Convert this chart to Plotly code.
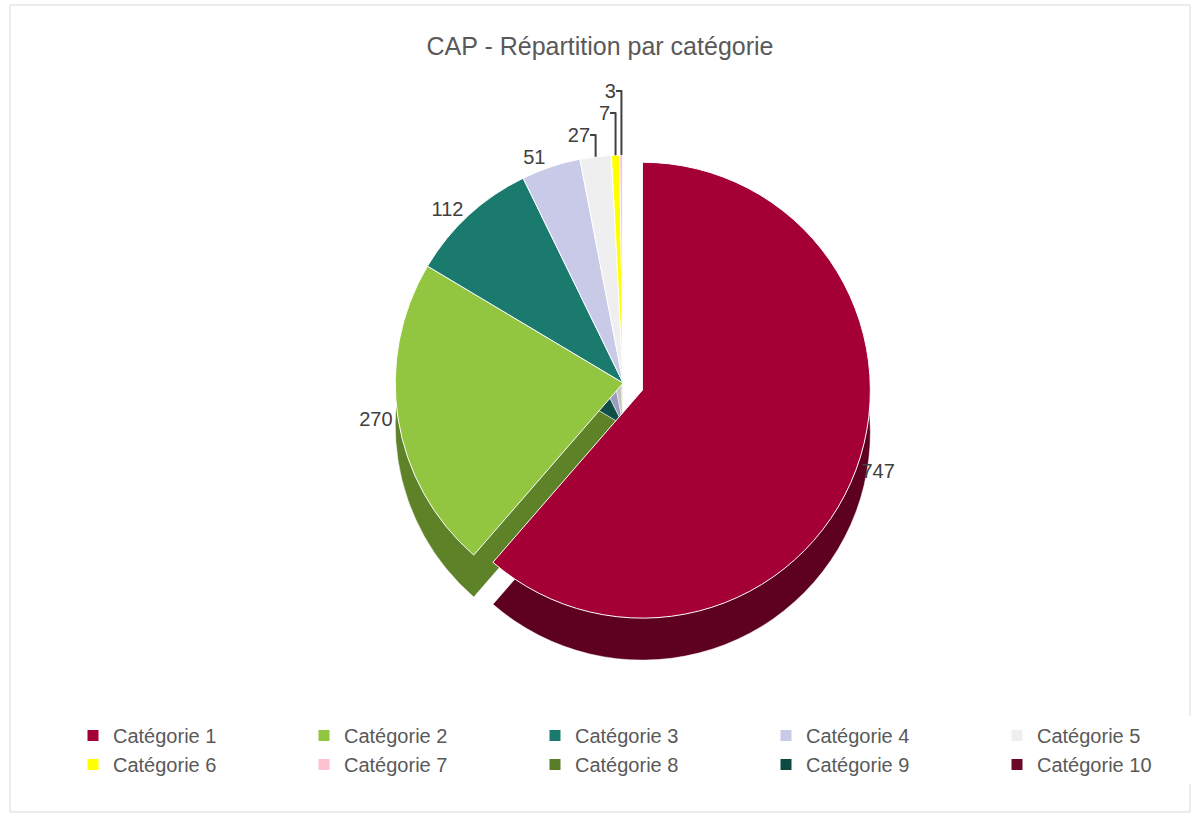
import plotly.graph_objects as go

categories = ["Catégorie 1", "Catégorie 2", "Catégorie 3", "Catégorie 4", "Catégorie 5",
              "Catégorie 6", "Catégorie 7", "Catégorie 8", "Catégorie 9", "Catégorie 10"]
values = [747, 270, 112, 51, 27, 7, 3, 0, 0, 0]
top_colors = ["#A50036", "#92C540", "#1B7A6E", "#C9C9E8", "#EFEFEF",
              "#FFFF00", "#FFC0D0", "#5A7D2A", "#0E4A40", "#6B0A28"]
side_colors = ["#5E0020", "#5E8228", "#0F4F47", "#9C9CC0", "#C4C4C4",
               "#C8C800", "#D49AAA", "#3E571C", "#08302A", "#45061A"]
pulls = [0.09, 0, 0, 0, 0, 0, 0, 0, 0, 0]
title_text = "CAP - Répartition par catégorie"

labels_text = [str(v) if v > 0 else "" for v in values]

W, H = 1200, 816
ML, MR, MT, MB = 20, 20, 80, 130
pw, ph = W - ML - MR, H - MT - MB

dom_x = [0.10, 0.94]
dom_y = [0.09, 0.91]
depth = 42 / ph

fig = go.Figure()
# side (depth) of the pie
fig.add_trace(go.Pie(
    labels=categories, values=values, sort=False, direction="clockwise", rotation=0,
    marker=dict(colors=side_colors, line=dict(color="#FFFFFF", width=0.5)),
    pull=pulls, textinfo="none", hoverinfo="skip", showlegend=False,
    domain=dict(x=dom_x, y=[dom_y[0] - depth, dom_y[1] - depth]),
))
# top of the pie
fig.add_trace(go.Pie(
    labels=categories, values=values, sort=False, direction="clockwise", rotation=0,
    marker=dict(colors=top_colors, line=dict(color="#FFFFFF", width=1)),
    pull=pulls, text=labels_text, textinfo="text", textposition="outside",
    outsidetextfont=dict(size=20, color="#404040"),
    domain=dict(x=dom_x, y=dom_y),
))

fig.update_layout(
    width=W, height=H,
    margin=dict(l=ML, r=MR, t=MT, b=MB, autoexpand=False),
    paper_bgcolor="#FFFFFF", plot_bgcolor="#FFFFFF",
    font=dict(family="Liberation Sans, Arial, sans-serif", color="#595959"),
    title=dict(text=title_text, x=0.5, xanchor="center", y=1 - 46 / H, yanchor="middle",
               font=dict(size=25, color="#595959")),
    legend=dict(orientation="h", x=(73 - ML) / pw, xanchor="left",
                y=(H - 716 - MB) / ph, yanchor="top",
                entrywidth=186, entrywidthmode="pixels",
                font=dict(size=20, color="#595959"), traceorder="normal"),
    shapes=[dict(type="rect", xref="paper", yref="paper",
                 x0=(10 - ML) / pw, x1=(1190 - ML) / pw,
                 y0=(4 - MB) / ph, y1=(811 - MB) / ph,
                 line=dict(color="#D9D9D9", width=1), fillcolor="rgba(0,0,0,0)", layer="below")],
)

fig.write_html("out.html", config={"displayModeBar": False},
               post_script="document.body.style.margin='0px';")
